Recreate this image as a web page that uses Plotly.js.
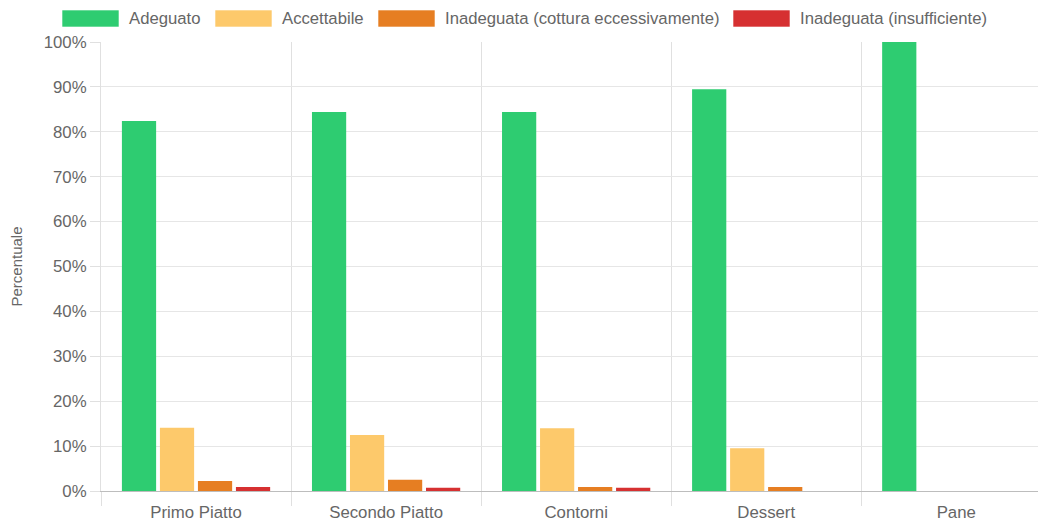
<!DOCTYPE html>
<html>
<head>
<meta charset="utf-8">
<script src="https://cdn.plot.ly/plotly-3.0.1.min.js"></script>
<style>html,body{margin:0;padding:0;background:#fff;}#chart{width:1038px;height:526px;}</style>
</head>
<body>
<div id="chart"></div>
<script>
const categories = ["Primo Piatto", "Secondo Piatto", "Contorni", "Dessert", "Pane"];
const seriesNames = ["Adeguato", "Accettabile", "Inadeguata (cottura eccessivamente)", "Inadeguata (insufficiente)"];
const adeguato = [82.4, 84.4, 84.4, 89.5, 100];
const accettabile = [14.1, 12.5, 14.0, 9.5, 0];
const inadeguataEccessiva = [2.2, 2.5, 0.9, 0.9, 0];
const inadeguataInsufficiente = [0.9, 0.7, 0.7, 0, 0];
const colors = ["#2ecc71", "#fdc96b", "#e67e22", "#d63031"];

const values = [adeguato, accettabile, inadeguataEccessiva, inadeguataInsufficiente];
const traces = values.map((v, i) => ({
  type: "bar",
  name: seriesNames[i],
  x: categories,
  y: v,
  marker: {color: colors[i]},
  showlegend: false,
  hovertemplate: "%{x}: %{y}%<extra>" + seriesNames[i] + "</extra>"
}));

// plot geometry (pixels)
const W = 1038, H = 526, L = 101, R = 0, T = 42, B = 35;
const pw = W - L - R, ph = H - T - B;
const px = x => (x - L) / pw;
const py = y => (H - B - y) / ph;

// custom legend (Chart.js style boxes)
const legendBoxX = [62, 215, 378, 733];
const boxW = 57, boxTop = 10, boxBot = 27;
const shapes = [], annotations = [];
seriesNames.forEach((n, i) => {
  shapes.push({type: "rect", xref: "paper", yref: "paper",
    x0: px(legendBoxX[i]), x1: px(legendBoxX[i] + boxW), y0: py(boxBot), y1: py(boxTop),
    fillcolor: colors[i], line: {color: "rgba(255,255,255,0.6)", width: 1}});
  annotations.push({xref: "paper", yref: "paper", x: px(legendBoxX[i] + boxW + 8), y: py((boxTop + boxBot) / 2),
    xanchor: "left", yanchor: "middle", text: n, showarrow: false,
    font: {family: "Liberation Sans, Arial, sans-serif", size: 16.7, color: "#666"}});
});

const layout = {
  width: W, height: H,
  margin: {l: L, r: R, t: T, b: B, pad: 0},
  paper_bgcolor: "#fff", plot_bgcolor: "#fff",
  barmode: "group", bargap: 0.2, bargroupgap: 0.1,
  font: {family: "Liberation Sans, Arial, sans-serif", size: 16.8, color: "#666"},
  xaxis: {
    type: "category", range: [-0.5, 4.43],
    tickson: "boundaries", ticks: "outside", ticklen: 14, tickcolor: "#e0e0e0",
    showgrid: true, gridcolor: "#e0e0e0", gridwidth: 1,
    showline: true, linecolor: "#bdbdbd", linewidth: 1,
    ticklabelstandoff: 6,
    tickfont: {size: 16.8, color: "#666"}, fixedrange: true
  },
  yaxis: {
    range: [0, 100], dtick: 10, ticksuffix: "%",
    ticks: "outside", ticklen: 10, tickcolor: "#e0e0e0",
    showgrid: true, gridcolor: "#e6e6e6", zeroline: false,
    showline: true, linecolor: "#e0e0e0",
    tickfont: {size: 16.8, color: "#666"},
    title: {text: "Percentuale", font: {size: 15, color: "#666"}, standoff: 17},
    fixedrange: true
  },
  shapes: shapes,
  annotations: annotations
};

Plotly.newPlot("chart", traces, layout, {displayModeBar: false, staticPlot: true});
</script>
</body>
</html>
